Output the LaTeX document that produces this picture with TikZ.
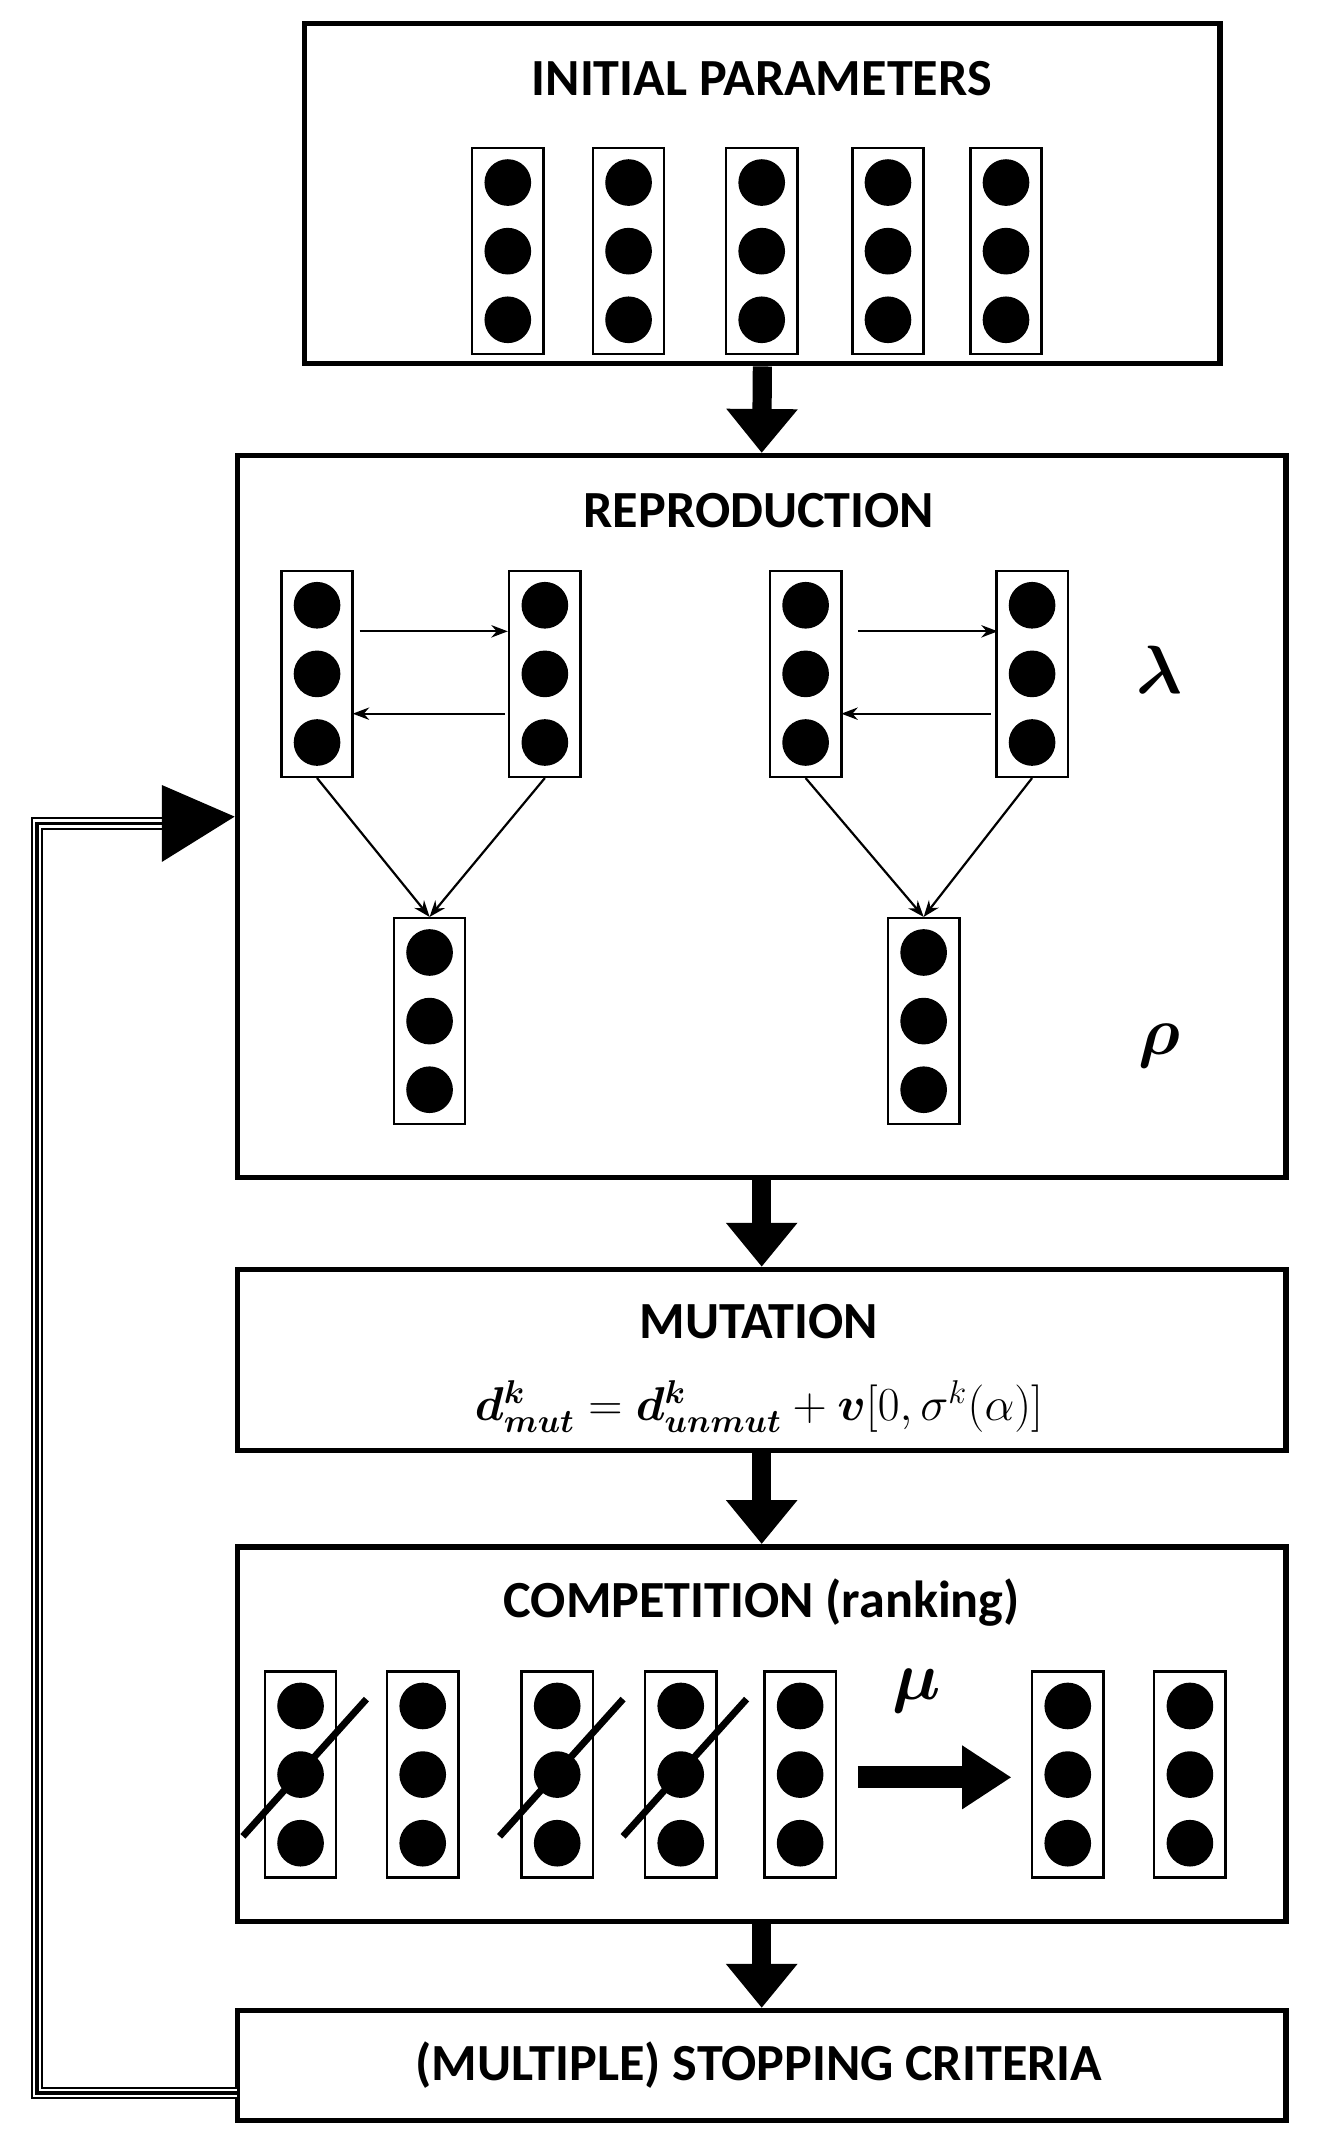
\documentclass[tikz,border=0pt]{standalone}
\usepackage{fontspec}
\setmainfont{Carlito}
\usepackage{amsmath,bm}
\usetikzlibrary{arrows.meta}
\begin{document}
\begin{tikzpicture}[x=0.5pt,y=-0.5pt,
 box/.style={draw,line width=2pt},
 title/.style={font=\fontsize{19}{22}\selectfont\bfseries},
 chrom/.style={draw,line width=0.9pt,minimum width=26pt,minimum height=75pt,inner sep=0pt},
 dot/.style={fill,circle,minimum size=17pt,inner sep=0pt},
 bigarrow/.style={line width=7pt,-{Triangle[width=25pt,length=16pt]}},
 thin/.style={line width=0.8pt,-{Stealth[length=6pt]}}]
\useasboundingbox (0,0) rectangle (960,1560);
\newcommand{\chr}[3]{\node[chrom] (#1) at (#2,#3) {};
 \node[dot] at (#2,#3-50) {};\node[dot] at (#2,#3) {};\node[dot] at (#2,#3+50) {};}
% initial
\node[box,minimum width=333.5pt,minimum height=124pt,inner sep=0pt] (init) at (555.5,141) {};
\node[title] (t1) at (555,57) {INITIAL PARAMETERS};
\chr{i1}{370}{183}\chr{i2}{458}{183}\chr{i3}{555}{183}\chr{i4}{647}{183}\chr{i5}{733}{183}
% reproduction
\node[box,minimum width=382pt,minimum height=263pt,inner sep=0pt] (rep) at (555,595) {};
\node[title] (t2) at (553,372) {REPRODUCTION};
\chr{a}{231}{491}\chr{b}{397}{491}\chr{c}{587}{491}\chr{d}{752}{491}
\chr{e}{313}{744}\chr{f}{673}{744}
\draw[thin] (262,460) -- (370,460);
\draw[thin] (368,520) -- (257,520);
\draw[thin] (625,460) -- (727,460);
\draw[thin] (722,520) -- (613,520);
\draw[thin] (a.south) -- (e.north);
\draw[thin] (b.south) -- (e.north);
\draw[thin] (c.south) -- (f.north);
\draw[thin] (d.south) -- (f.north);
\node[font=\fontsize{30}{30}\selectfont] (lam) at (845,488) {$\bm{\lambda}$};
\node[font=\fontsize{30}{30}\selectfont] (rho) at (845,762) {$\bm{\rho}$};
% mutation
\node[box,minimum width=382pt,minimum height=66pt,inner sep=0pt] (mut) at (555,991) {};
\node[title] (t3) at (553,963) {MUTATION};
\node[font=\fontsize{17}{20}\selectfont] (f1) at (553,1025) {$\bm{d^k}_{\bm{mut}}=\bm{d^k}_{\bm{unmut}}+\bm{v}[0,\sigma^k(\alpha)]$};
% competition
\node[box,minimum width=382pt,minimum height=136.5pt,inner sep=0pt] (comp) at (555,1263.5) {};
\node[title] (t4) at (555,1168) {COMPETITION (ranking)};
\chr{k1}{219}{1293}\chr{k2}{308}{1293}\chr{k3}{406}{1293}\chr{k4}{496}{1293}\chr{k5}{583}{1293}\chr{k6}{778}{1293}\chr{k7}{867}{1293}
\foreach \n in {k1,k3,k4} \draw[line width=2.5pt] ([shift={(-42,45)}]\n.center) -- ([shift={(48,-55)}]\n.center);
\draw[line width=8pt,-{Triangle[width=22pt,length=18pt]}] (625,1295) -- (737,1295);
\node[font=\fontsize{30}{30}\selectfont] (mu) at (668,1232) {$\bm{\mu}$};
% stopping
\node[box,minimum width=382pt,minimum height=40pt,inner sep=0pt] (stop) at (555,1505) {};
\node[title] (t5) at (553,1505) {(MULTIPLE) STOPPING CRITERIA};
% big arrows
\draw[bigarrow] (init.south) -- (rep.north);
\draw[bigarrow] (rep.south) -- (mut.north);
\draw[bigarrow] (mut.south) -- (comp.north);
\draw[bigarrow] (comp.south) -- (stop.north);
% loop
\coordinate (l1) at (173,1525);
\coordinate (l2) at (27,1525);
\coordinate (l3) at (27,600);
\coordinate (l4) at (125,600);
\draw[line width=4.5pt] (l1) -- (l2) -- (l3) -- (l4);
\draw[line width=3pt,white] (l1) -- (l2) -- (l3) -- (l4);
\draw[line width=1.2pt] (l1) -- (l2) -- (l3) -- (l4);
\fill (118,572) -- (rep.west) -- (118,628) -- cycle;
\end{tikzpicture}
\end{document}
